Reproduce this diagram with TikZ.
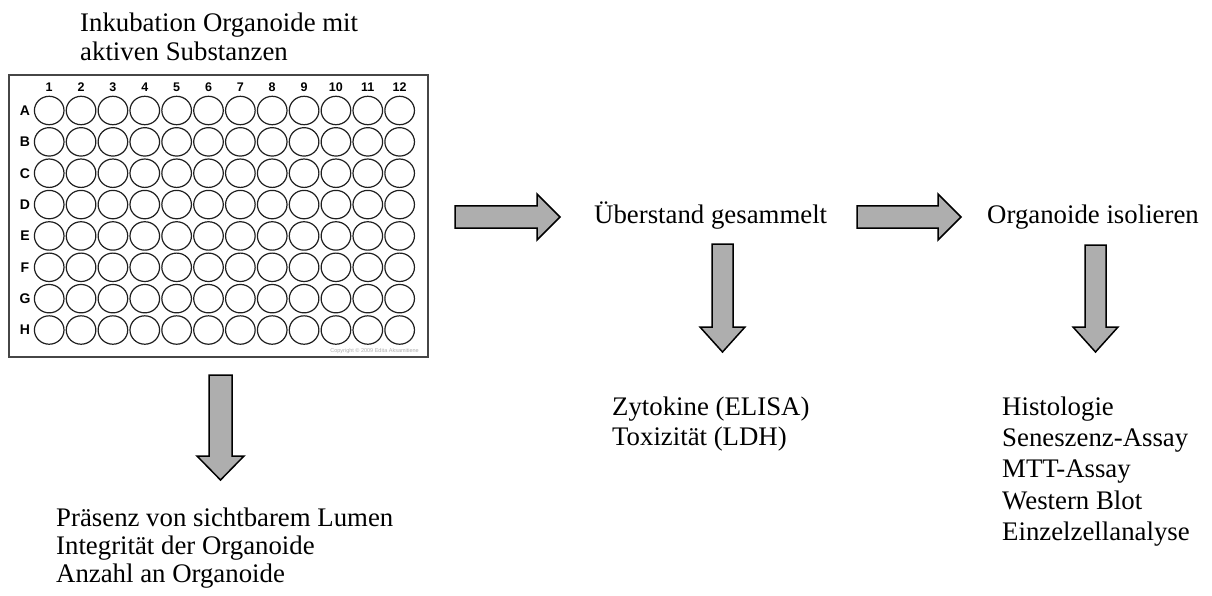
\documentclass[tikz,border=0pt]{standalone}
\usepackage{fontspec}
\setmainfont{Liberation Serif}
\newfontfamily\platefont{Liberation Sans}
\definecolor{arrowgray}{RGB}{174,174,174}
\definecolor{framegray}{RGB}{70,70,70}
\definecolor{copygray}{RGB}{175,175,175}
\begin{document}
\begin{tikzpicture}[x=1pt,y=-1pt,
  txt/.style={anchor=base west, inner sep=0pt, font=\fontsize{26.8}{31}\selectfont},
  blockarrow/.style={draw=black, line width=1.5pt, fill=arrowgray, line join=miter},
  plateframe/.style={draw=framegray, line width=1.6pt, fill=white},
  well/.style={draw=black!88, line width=1.2pt},
  collab/.style={inner sep=0pt, font=\platefont\bfseries\fontsize{12.5}{12.5}\selectfont},
  rowlab/.style={inner sep=0pt, font=\platefont\bfseries\fontsize{14}{14}\selectfont},
  copy/.style={anchor=east, inner sep=0pt, text=copygray, font=\platefont\fontsize{5.5}{6}\selectfont}]
\useasboundingbox (0,0) rectangle (1212,596);

% plate
\draw[plateframe] (9,75) rectangle (428,357);
\foreach \c in {1,...,12}{
  \node[collab] (col\c) at ({49.2+(\c-1)*31.86},87) {\c};
  \foreach \L [count=\r] in {A,B,C,D,E,F,G,H}{
    \draw[well] ({49.2+(\c-1)*31.86},{110.5+(\r-1)*31.36}) ellipse [x radius=14.8pt, y radius=14.2pt];
  }
}
\foreach \L [count=\r] in {A,B,C,D,E,F,G,H}{
  \node[rowlab] (row\L) at (25,{110.5+(\r-1)*31.36}) {\L};
}
\node[copy] (copyright) at (419,351) {Copyright © 2009 Edita Aksamitiene};

% texts
\node[txt] (title1) at (80,32) {Inkubation Organoide mit};
\node[txt] (title2) at (80,61) {aktiven Substanzen};
\node[txt] (ueber) at (594,223) {Überstand gesammelt};
\node[txt] (iso) at (987,223) {Organoide isolieren};
\node[txt] (zyto) at (612,415) {Zytokine (ELISA)};
\node[txt] (toxi) at (612,445) {Toxizität (LDH)};
\node[txt] (histo) at (1002,415) {Histologie};
\node[txt] (senes) at (1002,446) {Seneszenz-Assay};
\node[txt] (mtt) at (1002,477) {MTT-Assay};
\node[txt] (western) at (1002,509) {Western Blot};
\node[txt] (einzel) at (1002,540) {Einzelzellanalyse};
\node[txt] (praes) at (56,526) {Präsenz von sichtbarem Lumen};
\node[txt] (integ) at (56,554) {Integrität der Organoide};
\node[txt] (anzahl) at (56,582) {Anzahl an Organoide};

% right arrows
\draw[blockarrow] (455,206) -- (537,206) -- (537,194) -- (560,217) -- (537,240) -- (537,228) -- (455,228) -- cycle;
\draw[blockarrow] (857,206) -- (938,206) -- (938,194) -- (961,217) -- (938,240) -- (938,228) -- (857,228) -- cycle;
% down arrows
\draw[blockarrow] (209,375) -- (232,375) -- (232,456) -- (244,456) -- (220.5,480) -- (197,456) -- (209,456) -- cycle;
\draw[blockarrow] (712,244) -- (733,244) -- (733,327) -- (745,327) -- (722.5,352) -- (700,327) -- (712,327) -- cycle;
\draw[blockarrow] (1085,245) -- (1106,245) -- (1106,327) -- (1118,327) -- (1095.5,352) -- (1073,327) -- (1085,327) -- cycle;
\end{tikzpicture}
\end{document}
